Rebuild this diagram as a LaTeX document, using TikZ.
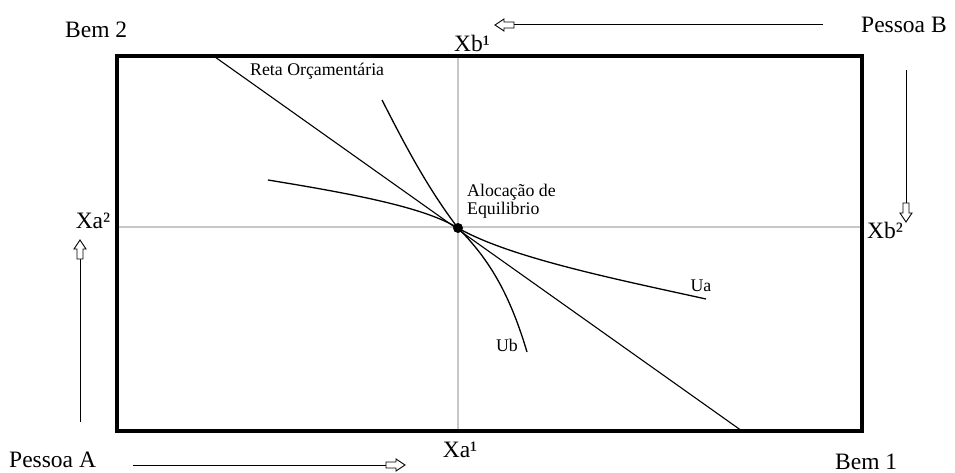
\documentclass[tikz,border=0pt]{standalone}
\usepackage{fontspec}
\setmainfont{Liberation Serif}
\usetikzlibrary{calc}
\begin{document}
\begin{tikzpicture}[x=1pt,y=-1pt,
  big/.style={font=\fontsize{23.5}{26}\selectfont, inner sep=0pt},
  small/.style={font=\fontsize{17.8}{19}\selectfont, inner sep=0pt},
  curve/.style={line width=1.3pt, black},
  guide/.style={line width=1.3pt, black!22},
  shaft/.style={line width=1pt, black},
  openhead/.pic={\draw[line width=0.9pt, fill=white] (0,0) -- (-9,6) -- (-9,3) -- (-19,3) -- (-19,-3) -- (-9,-3) -- (-9,-6) -- cycle;}
]
\useasboundingbox (0,0) rectangle (955,473);
% guides
\draw[guide] (458,56) -- (458,431);
\draw[guide] (117,227) -- (862,227);
% box
\draw[line width=4pt] (117,56) rectangle (862,431);
% budget line
\coordinate (bl1) at (215,57);
\coordinate (bl2) at (742,431);
\draw[line width=1.1pt] (bl1) -- (bl2);
% equilibrium
\coordinate (eq) at (458,228);
\draw[curve] (268,180) .. controls (360,195) and (425,208) .. (eq)
  .. controls (510,258) and (620,280) .. (706,299);
\draw[curve] (382,100) .. controls (400,135) and (425,185) .. (eq)
  .. controls (490,260) and (510,295) .. (527,352);
\fill (eq) circle (5);
% labels
\node[big, anchor=west] (bem2) at (65,30) {Bem 2};
\node[big] (xb1) at (472,43) {Xb¹};
\node[big, anchor=west] (pb) at (861,25) {Pessoa B};
\node[big, anchor=west] (xb2) at (867,230) {Xb²};
\node[big] (xa2) at (93,221) {Xa²};
\node[big, anchor=west] (pa) at (9,460) {Pessoa A};
\node[big] (xa1) at (460,450) {Xa¹};
\node[big, anchor=west] (bem1) at (835,462) {Bem 1};
\node[small, anchor=west] (reta) at (250,71) {Reta Orçamentária};
\node[small, anchor=west, align=left] (aloc) at (467,201) {Alocação de\\[-1pt]Equilibrio};
\node[small] (ua) at (701,286) {Ua};
\node[small] (ub) at (507,345) {Ub};
% arrows
\coordinate (tA) at (823,25); \coordinate (tB) at (495,25);
\draw[shaft] (tA) -- ($(tB)+(18,0)$);
\pic[rotate=180] at (tB) {openhead};
\coordinate (rA) at (906,70); \coordinate (rB) at (906,222);
\draw[shaft] (rA) -- ($(rB)+(0,-18)$);
\pic[rotate=-90] at (rB) {openhead};
\coordinate (lA) at (80,422); \coordinate (lB) at (80,240);
\draw[shaft] (lA) -- ($(lB)+(0,18)$);
\pic[rotate=90] at (lB) {openhead};
\coordinate (bA) at (133,465); \coordinate (bB) at (405,465);
\draw[shaft] (bA) -- ($(bB)+(-18,0)$);
\pic at (bB) {openhead};
\end{tikzpicture}
\end{document}
